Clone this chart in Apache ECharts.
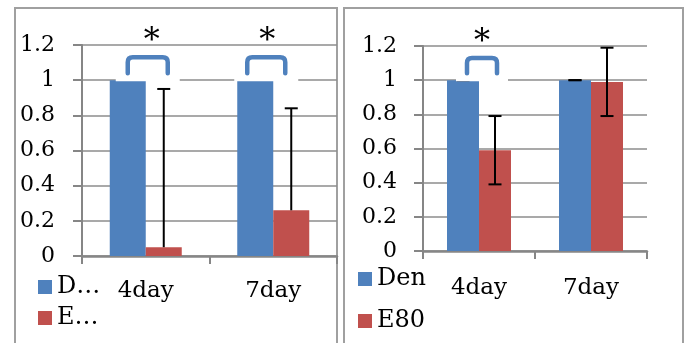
<!DOCTYPE html>
<html>
<head>
<meta charset="utf-8">
<script src="https://cdn.jsdelivr.net/npm/echarts@6/dist/echarts.min.js"></script>
<style>
html,body{margin:0;padding:0;background:#fff;}
#chart{width:689px;height:343px;}
</style>
</head>
<body>
<div id="chart"></div>
<script>
// ---- data ----
const categories = ['4day', '7day'];
const seriesNames = ['Den', 'E80'];
const leftDen = [1, 1];
const leftE80 = [0.05, 0.26];
const leftE80ErrPlus = [0.9, 0.58];
const rightDen = [1, 1];
const rightE80 = [0.59, 0.99];
const rightDenErr = [0, 0];
const rightE80Err = [0.2, 0.2];
const yMin = 0, yMax = 1.2, yStep = 0.2;
const leftSig = [0, 1];   // categories marked significant (left panel)
const rightSig = [0];     // categories marked significant (right panel)
const sigText = '*';

// ---- style ----
const FONT = 'DejaVu Serif';
const BLUE = '#4F81BD';
const RED = '#C0504D';
const AXIS = '#868686';
const GRID = '#8c8c8c';
const barW = [36, 32];

const chart = echarts.init(document.getElementById('chart'), null, {renderer: 'canvas'});

function errRender(offset, capW, both) {
  return function (params, api) {
    const cat = api.value(0), v = api.value(1), plus = api.value(2), minus = api.value(3);
    const p = api.coord([cat, v]);
    const t = api.coord([cat, v + plus]);
    const b = both ? api.coord([cat, v - minus]) : p;
    const x = p[0] + offset;
    const st = {stroke: '#000', lineWidth: 2};
    const ch = [
      {type: 'line', shape: {x1: x, y1: b[1], x2: x, y2: t[1]}, style: st},
      {type: 'line', shape: {x1: x - capW / 2, y1: t[1], x2: x + capW / 2, y2: t[1]}, style: st}
    ];
    if (both) ch.push({type: 'line', shape: {x1: x - capW / 2, y1: b[1], x2: x + capW / 2, y2: b[1]}, style: st});
    return {type: 'group', children: ch};
  };
}

function sigRender(layout) {
  return function (params, api) {
    const cat = api.value(0);
    const L = layout[params.dataIndex];
    const c = api.coord([cat, 1.13]);
    const legB = api.coord([cat, 1.04]);
    const boxT = api.coord([cat, 1.19]);
    const boxB = api.coord([cat, 1.0]);
    const star = api.coord([cat, 1.22]);
    const xc = c[0] + L.dx, xl = xc - L.hw, xr = xc + L.hw, yt = c[1], yb = legB[1], r = 5;
    const d = `M${xl},${yb} L${xl},${yt + r} Q${xl},${yt} ${xl + r},${yt} L${xr - r},${yt} Q${xr},${yt} ${xr},${yt + r} L${xr},${yb}`;
    return {type: 'group', children: [
      {type: 'rect', shape: {x: xc - L.bw / 2, y: boxT[1], width: L.bw, height: boxB[1] - boxT[1] + 1}, style: {fill: '#fff'}},
      {type: 'path', shape: {pathData: d}, style: {stroke: BLUE, lineWidth: 4.5, fill: null, lineCap: 'round', lineJoin: 'round'}},
      {type: 'text', x: c[0] + L.sx, y: star[1], style: {text: sigText, font: '32px ' + FONT, fill: '#000', align: 'center', verticalAlign: 'middle'}}
    ]};
  };
}

function yAxisCfg(gi, margin) {
  return {
    type: 'value', gridIndex: gi, min: yMin, max: yMax, interval: yStep,
    axisLine: {show: true, lineStyle: {color: AXIS, width: 2}},
    axisTick: {show: true, length: 9, lineStyle: {color: AXIS, width: 2}},
    splitLine: {show: true, lineStyle: {color: GRID, width: 1.5}},
    axisLabel: {color: '#000', fontFamily: FONT, fontSize: 22, margin: margin}
  };
}
function xAxisCfg(gi, margin) {
  return {
    type: 'category', gridIndex: gi, data: categories,
    axisLine: {show: true, lineStyle: {color: AXIS, width: 2.5}},
    axisTick: {show: true, length: 8, lineStyle: {color: AXIS, width: 2}},
    axisLabel: {color: '#000', fontFamily: FONT, fontSize: 23, margin: margin}
  };
}
function legendCfg(name, left, top, short) {
  return {
    data: [name], left: left, top: top, icon: 'rect', itemWidth: 14, itemHeight: 14, itemGap: 0,
    padding: 0, selectedMode: false,
    formatter: short ? (n => n.charAt(0) + '…') : '{name}',
    textStyle: {fontFamily: FONT, fontSize: 24, color: '#000', padding: [0, 0, 0, 0]}
  };
}

const option = {
  backgroundColor: '#fff',
  animation: false,
  graphic: [
    {type: 'rect', shape: {x: 15, y: 8, width: 322, height: 360}, style: {fill: null, stroke: '#a0a0a0', lineWidth: 2}, z: 0},
    {type: 'rect', shape: {x: 344, y: 8, width: 339, height: 360}, style: {fill: null, stroke: '#a0a0a0', lineWidth: 2}, z: 0}
  ],
  grid: [
    {left: 82, top: 45, width: 255, height: 211},
    {left: 423, top: 46, width: 224, height: 205}
  ],
  xAxis: [xAxisCfg(0, 24), xAxisCfg(1, 26)],
  yAxis: [yAxisCfg(0, 27), yAxisCfg(1, 26)],
  legend: [
    legendCfg(seriesNames[0], 38, 275, true),
    legendCfg(seriesNames[1], 38, 306, true),
    legendCfg(seriesNames[0], 358, 267, false),
    legendCfg(seriesNames[1], 358, 309, false)
  ],
  series: [
    {name: seriesNames[0], type: 'bar', xAxisIndex: 0, yAxisIndex: 0, data: leftDen, barWidth: barW[0], barGap: '0%', itemStyle: {color: BLUE}},
    {name: seriesNames[1], type: 'bar', xAxisIndex: 0, yAxisIndex: 0, data: leftE80, barWidth: barW[0], barGap: '0%', itemStyle: {color: RED}},
    {name: seriesNames[0], type: 'bar', xAxisIndex: 1, yAxisIndex: 1, data: rightDen, barWidth: barW[1], barGap: '0%', itemStyle: {color: BLUE}},
    {name: seriesNames[1], type: 'bar', xAxisIndex: 1, yAxisIndex: 1, data: rightE80, barWidth: barW[1], barGap: '0%', itemStyle: {color: RED}},
    {type: 'custom', xAxisIndex: 0, yAxisIndex: 0, z: 5, silent: true,
      renderItem: errRender(barW[0] / 2, 13, false),
      data: leftE80.map((v, i) => [i, v, leftE80ErrPlus[i], 0])},
    {type: 'custom', xAxisIndex: 1, yAxisIndex: 1, z: 5, silent: true,
      renderItem: errRender(-barW[1] / 2, 13, true),
      data: rightDen.map((v, i) => [i, v, rightDenErr[i], rightDenErr[i]])},
    {type: 'custom', xAxisIndex: 1, yAxisIndex: 1, z: 5, silent: true,
      renderItem: errRender(barW[1] / 2, 13, true),
      data: rightE80.map((v, i) => [i, v, rightE80Err[i], rightE80Err[i]])},
    {type: 'custom', xAxisIndex: 0, yAxisIndex: 0, z: 6, silent: true,
      renderItem: sigRender([{dx: 2, hw: 20, bw: 64, sx: 6}, {dx: -7, hw: 19, bw: 64, sx: -6}]),
      data: leftSig.map(i => [i, 1.13])},
    {type: 'custom', xAxisIndex: 1, yAxisIndex: 1, z: 6, silent: true,
      renderItem: sigRender([{dx: 3, hw: 15, bw: 52, sx: 3}]),
      data: rightSig.map(i => [i, 1.13])}
  ]
};
chart.setOption(option);
</script>
</body>
</html>
